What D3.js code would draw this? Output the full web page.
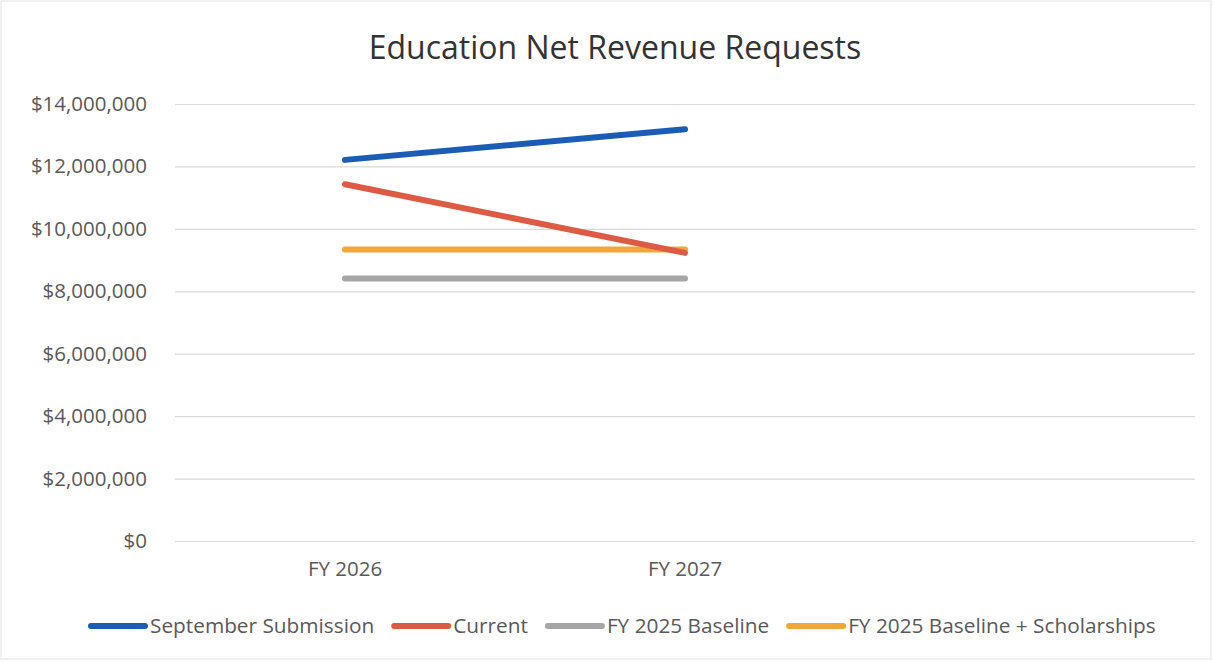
<!DOCTYPE html>
<html>
<head>
<meta charset="utf-8">
<script src="https://cdn.jsdelivr.net/npm/d3@7"></script>
<style>
  body { margin: 0; background: #fff; }
  svg { display: block; }
  svg text { font-family: "Open Sans", sans-serif; }
</style>
</head>
<body>
<div id="chart"></div>
<script>
// data
const categories = ['FY 2026', 'FY 2027', ''];
const seriesNames = ['September Submission', 'Current', 'FY 2025 Baseline', 'FY 2025 Baseline + Scholarships'];
const septemberSubmission = [12210000, 13190000];
const current = [11430000, 9230000];
const baseline = [8410000, 8410000];
const baselineScholarships = [9340000, 9340000];
const yTicks = [0, 2000000, 4000000, 6000000, 8000000, 10000000, 12000000, 14000000];
const colors = ['#1b5cb5', '#dd5b45', '#a6a6a6', '#f0a737'];

const width = 1214, height = 662;
const margin = {top: 104, right: 19, bottom: 121, left: 175};

const svg = d3.select('#chart').append('svg')
    .attr('width', width)
    .attr('height', height);

// faint frame
svg.append('rect')
    .attr('x', 1).attr('y', 1)
    .attr('width', width - 4).attr('height', height - 4)
    .attr('fill', 'none')
    .attr('stroke', '#e3e3e3');

const x = d3.scaleBand()
    .domain(categories)
    .range([margin.left, width - margin.right]);

const y = d3.scaleLinear()
    .domain([0, 14000000])
    .range([height - margin.bottom, margin.top]);

// gridlines + y labels
const yAxis = svg.append('g')
    .attr('transform', `translate(${margin.left},0)`)
    .call(d3.axisLeft(y)
        .tickValues(yTicks)
        .tickSize(-(width - margin.left - margin.right))
        .tickPadding(28)
        .tickFormat(d => '$' + d3.format(',')(d)));
yAxis.select('.domain').remove();
yAxis.selectAll('.tick line').attr('stroke', '#d9d9d9').attr('stroke-width', 1.2);
yAxis.selectAll('.tick text')
    .attr('fill', '#595959')
    .style('font-family', '"Open Sans", sans-serif')
    .style('font-size', '20.5px');

// x labels
const xAxis = svg.append('g')
    .attr('transform', `translate(0,${height - margin.bottom})`)
    .call(d3.axisBottom(x).tickSize(0).tickPadding(20));
xAxis.select('.domain').remove();
xAxis.selectAll('.tick text')
    .attr('fill', '#595959')
    .style('font-family', '"Open Sans", sans-serif')
    .style('font-size', '20.5px');

// series lines
const allSeries = [septemberSubmission, current, baseline, baselineScholarships];
const line = d3.line()
    .x((d, i) => x(categories[i]) + x.bandwidth() / 2)
    .y(d => y(d));

// gray and orange first, red over orange at the end, blue on top
[2, 3, 1, 0].forEach(k => {
    svg.append('path')
        .datum(allSeries[k])
        .attr('fill', 'none')
        .attr('stroke', colors[k])
        .attr('stroke-width', 6)
        .attr('stroke-linecap', 'round')
        .attr('d', line);
});

// title
svg.append('text')
    .attr('x', 615)
    .attr('y', 59)
    .attr('text-anchor', 'middle')
    .attr('fill', '#333333')
    .style('font-size', '32px')
    .text('Education Net Revenue Requests');

// legend
const legend = svg.append('g').attr('transform', 'translate(91,626)');
let lx = 0;
seriesNames.forEach((name, i) => {
    legend.append('line')
        .attr('x1', lx).attr('x2', lx + 54)
        .attr('y1', 0).attr('y2', 0)
        .attr('stroke', colors[i])
        .attr('stroke-width', 6)
        .attr('stroke-linecap', 'round');
    const t = legend.append('text')
        .attr('x', lx + 59)
        .attr('y', 7)
        .attr('fill', '#595959')
        .style('font-size', '20.8px')
        .text(name);
    lx += 59 + t.node().getComputedTextLength() + 20;
});
</script>
</body>
</html>
